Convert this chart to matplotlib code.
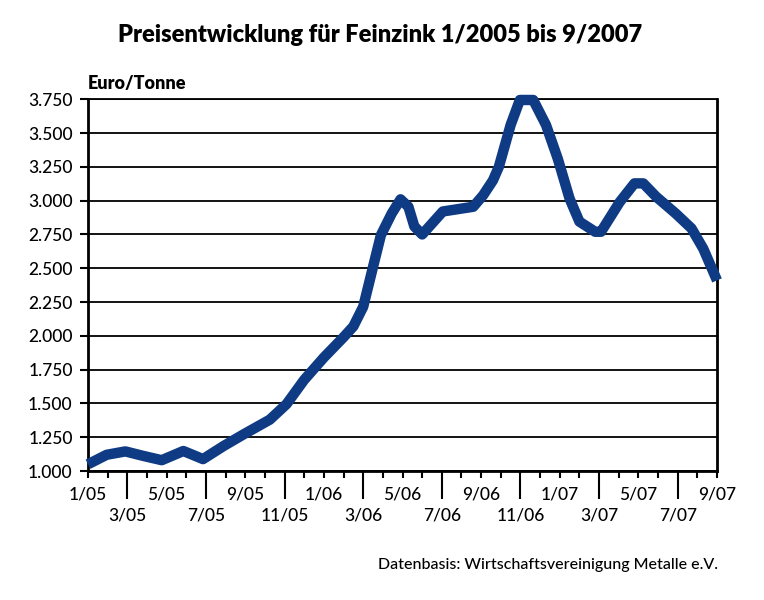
import matplotlib.pyplot as plt

# Zinc price (Euro/Tonne), x = months since 1/2005
months = [0, 0.95, 1.9, 2.8, 3.75, 4.85, 5.85, 6.9, 7.9, 9.25, 10.1, 11.0, 12.0,
          13.0, 13.5, 14.0, 14.5, 14.9, 15.45, 15.9, 16.3, 16.6, 17.0, 18.05,
          19.6, 20.1, 20.6, 20.9, 21.5, 21.97, 22.65, 23.3, 23.9, 24.5, 25.0,
          25.8, 26.1, 27.05, 27.8, 28.25, 28.9, 29.9, 30.7, 31.3, 32.0]
price = [1050, 1120, 1145, 1112, 1080, 1148, 1088, 1185, 1270, 1380, 1495, 1675, 1840,
         1990, 2070, 2215, 2510, 2745, 2905, 3010, 2955, 2810, 2750, 2920,
         2955, 3040, 3150, 3250, 3560, 3745, 3745, 3560, 3310, 3015, 2845,
         2770, 2770, 2990, 3128, 3128, 3030, 2905, 2795, 2645, 2410]

y_ticks = [1000, 1250, 1500, 1750, 2000, 2250, 2500, 2750, 3000, 3250, 3500, 3750]
y_labels = ['1.000', '1.250', '1.500', '1.750', '2.000', '2.250', '2.500',
            '2.750', '3.000', '3.250', '3.500', '3.750']
upper_labels = ['1/05', '5/05', '9/05', '1/06', '5/06', '9/06', '1/07', '5/07', '9/07']
lower_labels = ['3/05', '7/05', '11/05', '3/06', '7/06', '11/06', '3/07', '7/07']

plt.rcParams['font.family'] = ['Lato', 'DejaVu Sans']

fig = plt.figure(figsize=(7.64, 6), dpi=100)
ax = fig.add_axes([0.1152, 0.215, 0.8233, 0.6195])

ax.plot(months, price, color='#0e3b83', lw=7.5, solid_joinstyle='round',
        solid_capstyle='butt', clip_on=False, zorder=5)

ax.set_xlim(0, 32)
ax.set_ylim(1000, 3750)

# horizontal grid
ax.set_yticks(y_ticks, y_labels, fontsize=12.5, fontweight='medium')
ax.yaxis.grid(True, color='black', lw=1.3)
ax.tick_params(axis='y', length=6, width=1.5, pad=5)

# x ticks: long ticks with lower labels, short ticks with upper labels
ax.set_xticks(range(2, 33, 4), lower_labels, fontsize=12.5, fontweight='medium')
ax.set_xticks([m for m in range(33) if m % 4 != 2], minor=True)
ax.set_xticklabels([upper_labels[m // 4] if m % 4 == 0 else ''
                    for m in range(33) if m % 4 != 2], minor=True,
                   fontsize=12.5, fontweight='medium')
ax.tick_params(axis='x', which='major', length=20, width=1.5, pad=6)
ax.tick_params(axis='x', which='minor', length=5, width=1.5, pad=6)

for s in ['left', 'right', 'bottom']:
    ax.spines[s].set_linewidth(2)
ax.spines['top'].set_linewidth(1.3)

fig.text(0.497, 0.942, 'Preisentwicklung für Feinzink 1/2005 bis 9/2007',
         ha='center', va='center', fontsize=17, fontweight='heavy')
fig.text(0.1152, 0.86, 'Euro/Tonne', ha='left', va='center', fontsize=13,
         fontweight='heavy')
fig.text(0.94, 0.058, 'Datenbasis: Wirtschaftsvereinigung Metalle e.V.',
         ha='right', va='center', fontsize=11.5, fontweight='medium')

fig.savefig('out.png', dpi=100)
